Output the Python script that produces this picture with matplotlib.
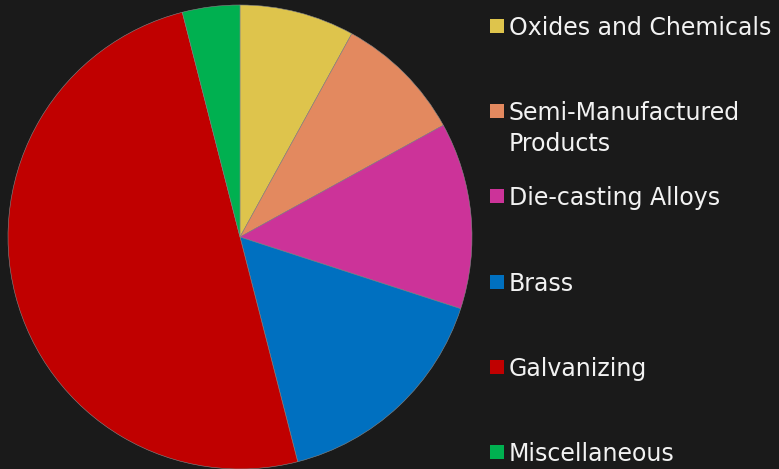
import matplotlib.pyplot as plt
from matplotlib.patches import Rectangle

labels = ["Oxides and Chemicals", "Semi-Manufactured\nProducts", "Die-casting Alloys",
          "Brass", "Galvanizing", "Miscellaneous"]
shares = [8, 9, 13, 16, 50, 4]
colors = ["#DEC44C", "#E3895F", "#CC3399", "#0070C0", "#C00000", "#00B050"]

bg = "#1a1a1a"
fig = plt.figure(figsize=(7.79, 4.69), dpi=100, facecolor=bg)

# pie axes: centre (240, 237) px, radius 232 px
ax = fig.add_axes([8/779, 0, 464/779, 464/469])
ax.pie(shares, colors=colors, startangle=90, counterclock=False,
       wedgeprops=dict(linewidth=0.4, edgecolor="#888888"))
ax.set_xlim(-1, 1)
ax.set_ylim(-1, 1)
ax.set_aspect("equal")
ax.axis("off")

# legend drawn in pixel coordinates
lg = fig.add_axes([0, 0, 1, 1], facecolor="none")
lg.set_xlim(0, 779)
lg.set_ylim(469, 0)
lg.axis("off")
y0, step = 26, 85.2
for i, (lab, c) in enumerate(zip(labels, colors)):
    yc = y0 + i * step
    lg.add_patch(Rectangle((490, yc - 7), 14, 14, facecolor=c, edgecolor="none"))
    lg.text(509, yc - 10, lab, color="#F2F2F2", fontsize=17, va="top", ha="left",
            family="DejaVu Sans", linespacing=1.35)

fig.savefig("out.png", dpi=100, facecolor=bg)
